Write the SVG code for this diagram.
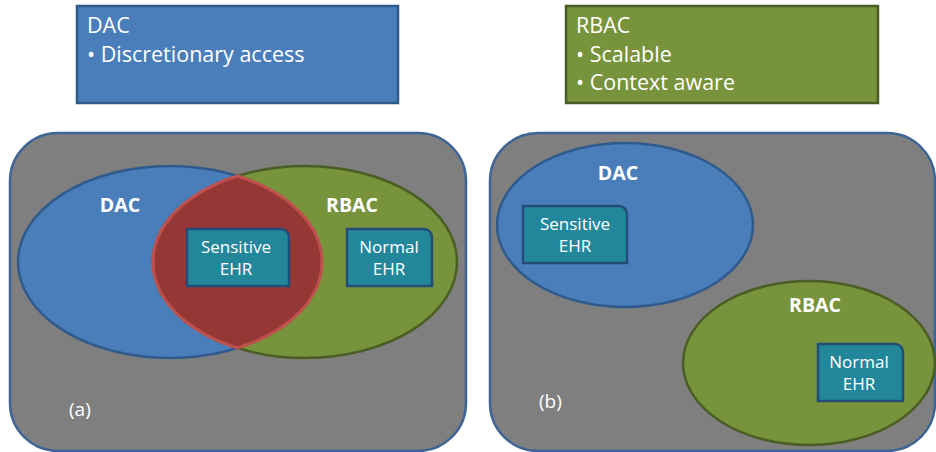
<svg xmlns="http://www.w3.org/2000/svg" width="936" height="452" viewBox="0 0 936 452">
<style>
text{font-family:"Open Sans","Liberation Sans",sans-serif;fill:#ffffff}
.hdr{font-size:21.5px}
.lbl{font-size:19.5px;font-weight:bold;text-anchor:middle}
.ehr{font-size:17px;text-anchor:middle}
.cap{font-size:19px}
.panel{fill:#7f7f7f;stroke:#3c6496;stroke-width:2.5}
.blue{fill:#4a7ebb;stroke:#2f5a8c;stroke-width:2.5}
.green{fill:#77933c;stroke:#4a5e24;stroke-width:2.5}
.lens{fill:#953735;stroke:#c0504d;stroke-width:3}
.box{fill:#23879b;stroke:#244c78;stroke-width:2.5}
</style>
<g id="dac-box">
<rect x="77" y="6" width="321" height="97" fill="#4a7ebb" stroke="#2f5a8c" stroke-width="2.5"/>
<text class="hdr" x="87" y="33">DAC</text>
<text class="hdr" x="87" y="62">• Discretionary access</text>
</g>
<g id="rbac-box">
<rect x="566" y="6" width="312" height="97" fill="#77933c" stroke="#4a5e24" stroke-width="2.5"/>
<text class="hdr" x="576" y="33">RBAC</text>
<text class="hdr" x="576" y="62">• Scalable</text>
<text class="hdr" x="576" y="90">• Context aware</text>
</g>
<g id="panel-a">
<rect class="panel" x="10" y="133" width="456" height="318" rx="48" ry="48"/>
<ellipse class="blue" cx="170" cy="262" rx="152" ry="96"/>
<ellipse class="green" cx="305" cy="262" rx="152" ry="96"/>
<path class="lens" d="M237.5 176 A152 96 0 0 1 237.5 348 A152 96 0 0 1 237.5 176 Z"/>
<text class="lbl" x="120" y="212">DAC</text>
<text class="lbl" x="352" y="212">RBAC</text>
<text class="cap" x="69" y="416">(a)</text>
</g>
<g id="sensitive-a">
<path class="box" d="M187 229 H281 A8 8 0 0 1 289 237 V286 H187 Z"/>
<text class="ehr" x="236" y="253">Sensitive</text>
<text class="ehr" x="236" y="275">EHR</text>
</g>
<g id="normal-a">
<path class="box" d="M347 229 H424 A8 8 0 0 1 432 237 V286 H347 Z"/>
<text class="ehr" x="389" y="253">Normal</text>
<text class="ehr" x="389" y="275">EHR</text>
</g>
<g id="panel-b">
<rect class="panel" x="490" y="133" width="445" height="318" rx="48" ry="48"/>
<ellipse class="blue" cx="625" cy="225" rx="128" ry="82"/>
<ellipse class="green" cx="809" cy="363" rx="126" ry="82"/>
<text class="lbl" x="618" y="180">DAC</text>
<text class="lbl" x="815" y="312">RBAC</text>
<text class="cap" x="539" y="408">(b)</text>
</g>
<g id="sensitive-b">
<path class="box" d="M523 206 H619 A8 8 0 0 1 627 214 V263 H523 Z"/>
<text class="ehr" x="575" y="230">Sensitive</text>
<text class="ehr" x="575" y="252">EHR</text>
</g>
<g id="normal-b">
<path class="box" d="M818 344 H895 A8 8 0 0 1 903 352 V401 H818 Z"/>
<text class="ehr" x="859" y="368">Normal</text>
<text class="ehr" x="859" y="390">EHR</text>
</g>
<g id="connectors"/>
</svg>
